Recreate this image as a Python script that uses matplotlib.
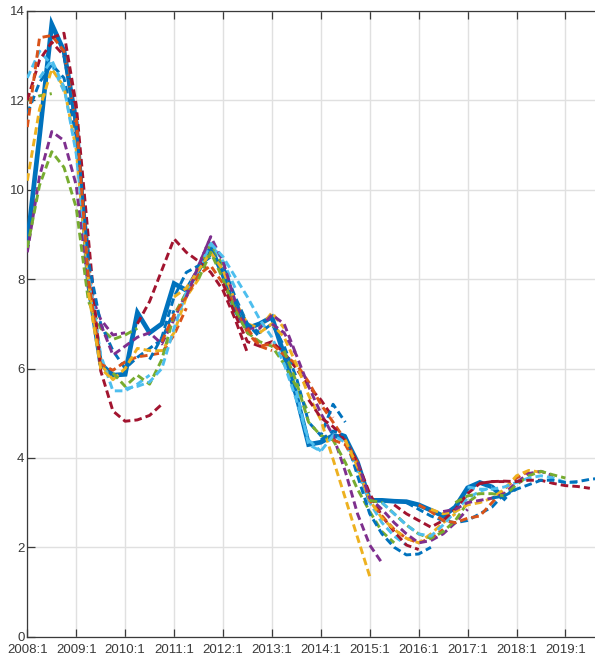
import matplotlib
matplotlib.use("Agg")
import matplotlib.pyplot as plt
from matplotlib import font_manager

# ---------------- data ----------------
# quarter index 0 = 2008:1
tick_labels = ["2008:1", "2009:1", "2010:1", "2011:1", "2012:1", "2013:1",
               "2014:1", "2015:1", "2016:1", "2017:1", "2018:1", "2019:1"]
y_ticks = [0, 2, 4, 6, 8, 10, 12, 14]

actual = [8.8, 11.2, 13.7, 13.1, 11.5, 7.9, 6.1, 5.85, 5.87, 7.25,
          6.8, 7.0, 7.9, 7.75, 8.2, 8.7, 8.1, 7.3, 6.9, 7.0,
          7.15, 6.3, 5.4, 4.3, 4.35, 4.5, 4.45, 3.9, 3.05, 3.05,
          3.03, 3.02, 2.95, 2.83, 2.7, 2.9, 3.33, 3.45, 3.35, 3.1]

# each vintage: 10-quarter window starting at its id (clipped at 2008:1)
v_m7 = [12.0, 12.1, 12.15]
v_m6 = [12.5, 13.1, 12.8, 12.2]
v_m5 = [12.0, 12.9, 13.3, 13.0, 11.7]
v_m4 = [11.7, 12.4, 12.8, 12.5, 11.2, 8.6]
v_m3 = [11.4, 13.4, 13.45, 13.1, 11.4, 8.4, 6.2]
v_m2 = [10.2, 11.8, 12.7, 12.3, 10.9, 7.9, 6.1, 5.75]
v_m1 = [8.6, 10.3, 11.3, 11.1, 10.1, 7.8, 7.1, 6.75, 6.8]
v_00 = [8.7, 10.1, 10.85, 10.5, 9.6, 7.5, 6.9, 6.65, 6.75, 6.9]
v_01 = [12.5, 12.9, 12.3, 10.8, 8.2, 6.3, 5.5, 5.5, 5.65, 5.85]
v_02 = [13.4, 13.5, 11.9, 8.9, 5.95, 5.05, 4.82, 4.85, 4.95, 5.2]
v_03 = [13.0, 11.4, 8.4, 7.0, 6.4, 6.0, 6.25, 6.45, 6.65, 7.3]
v_04 = [11.6, 8.0, 6.1, 5.96, 6.15, 6.26, 6.3, 6.35, 6.75, 7.35]
v_05 = [7.7, 6.0, 5.75, 6.0, 6.45, 6.4, 6.4, 6.8, 7.6, 8.0]
v_06 = [7.0, 6.3, 6.5, 6.7, 6.8, 6.55, 7.1, 7.7, 8.3, 8.95]
v_07 = [5.9, 5.6, 5.85, 5.65, 6.2, 7.2, 7.7, 8.2, 8.8, 8.3]
v_08 = [5.55, 5.6, 5.7, 6.0, 6.9, 7.7, 8.2, 8.8, 8.4, 7.8]
v_09 = [7.0, 7.5, 8.2, 8.9, 8.6, 8.4, 8.15, 7.75, 7.1, 6.35]
v_10 = [6.2, 6.7, 7.6, 8.15, 8.3, 8.5, 8.3, 7.6, 7.0, 6.7]
v_11 = [6.6, 7.2, 7.6, 8.1, 8.3, 7.9, 7.4, 6.8, 6.5, 6.4]
v_12 = [7.6, 7.8, 8.2, 8.6, 8.2, 7.5, 7.0, 6.9, 7.25, 6.9]
v_13 = [7.6, 8.3, 8.95, 8.4, 7.5, 6.9, 6.9, 7.2, 7.0, 6.3]
v_14 = [8.0, 8.6, 8.0, 7.3, 6.8, 6.6, 6.5, 6.1, 5.6, 5.0]
v_15 = [8.8, 8.5, 8.05, 7.6, 7.1, 6.7, 6.1, 5.3, 4.4, 4.15]
v_16 = [7.9, 7.2, 6.6, 6.5, 6.6, 6.35, 6.0, 5.6, 5.3, 4.9]
v_17 = [7.5, 7.0, 6.8, 7.0, 6.5, 5.8, 4.8, 4.5, 5.2, 4.8]
v_18 = [6.9, 6.5, 6.55, 6.3, 6.1, 5.7, 5.2, 4.8, 4.4, 3.9]
v_19 = [6.8, 7.0, 6.7, 6.1, 5.4, 4.85, 3.97, 3.1, 2.22, 1.35]
v_20 = [7.0, 6.8, 6.3, 5.6, 5.0, 4.5, 3.7, 2.75, 2.05, 1.65]
v_21 = [6.4, 5.7, 4.8, 4.5, 4.4, 3.9, 3.3, 2.8, 2.35, 2.1]
v_22 = [5.5, 4.3, 4.15, 4.5, 4.35, 3.7, 3.0, 2.55, 2.25, 2.05]
v_23 = [5.3, 4.9, 4.7, 4.4, 3.9, 3.2, 2.7, 2.35, 2.05, 1.95]
v_24 = [4.4, 4.6, 4.5, 3.6, 2.75, 2.3, 2.0, 1.83, 1.85, 2.0]
v_25 = [4.4, 4.3, 3.8, 3.05, 2.7, 2.4, 2.2, 2.1, 2.2, 2.4]
v_26 = [4.4, 3.8, 3.05, 2.65, 2.4, 2.2, 2.1, 2.3, 2.55, 2.75]
v_27 = [3.9, 3.1, 2.85, 2.55, 2.3, 2.1, 2.15, 2.3, 2.55, 2.85]
v_28 = [3.05, 3.0, 2.75, 2.5, 2.3, 2.2, 2.35, 2.6, 3.0, 3.2]
v_29 = [3.0, 2.75, 2.5, 2.3, 2.25, 2.5, 2.8, 3.1, 3.25, 3.35]
v_30 = [2.95, 2.75, 2.6, 2.45, 2.6, 2.85, 3.2, 3.43, 3.47, 3.47]
v_31 = [3.0, 2.85, 2.7, 2.6, 2.55, 2.6, 2.75, 2.9, 3.2, 3.3]
v_32 = [2.95, 2.8, 2.6, 2.55, 2.65, 2.7, 3.0, 3.3, 3.55, 3.7]
v_33 = [2.85, 2.75, 2.8, 2.95, 3.0, 3.1, 3.3, 3.6, 3.72, 3.68]
v_34 = [2.8, 2.85, 3.0, 3.05, 3.1, 3.2, 3.45, 3.65, 3.7, 3.6]
v_35 = [3.0, 3.15, 3.2, 3.2, 3.15, 3.4, 3.6, 3.7, 3.62, 3.55]
v_36 = [3.35, 3.3, 3.3, 3.35, 3.45, 3.55, 3.6, 3.55, 3.45, 3.45]
v_37 = [3.43, 3.47, 3.48, 3.47, 3.5, 3.5, 3.43, 3.38, 3.36, 3.32]
v_38 = [3.1, 3.15, 3.3, 3.4, 3.5, 3.5, 3.45, 3.47, 3.52, 3.55]

vintage_ids = list(range(-7, 39))
vintages = [v_m7, v_m6, v_m5, v_m4, v_m3, v_m2, v_m1, v_00, v_01, v_02,
            v_03, v_04, v_05, v_06, v_07, v_08, v_09, v_10, v_11, v_12,
            v_13, v_14, v_15, v_16, v_17, v_18, v_19, v_20, v_21, v_22,
            v_23, v_24, v_25, v_26, v_27, v_28, v_29, v_30, v_31, v_32,
            v_33, v_34, v_35, v_36, v_37, v_38]

# MATLAB default colour order
colors = ["#0072BD", "#D95319", "#EDB120", "#7E2F8E",
          "#77AC30", "#4DBEEE", "#A2142F"]

# ---------------- font ----------------
names = {f.name for f in font_manager.fontManager.ttflist}
fam = "Liberation Sans Narrow" if "Liberation Sans Narrow" in names else "Liberation Sans"
plt.rcParams["font.family"] = [fam, "DejaVu Sans"]

# ---------------- figure ----------------
W, H = 595, 666
fig = plt.figure(figsize=(W / 100, H / 100), dpi=100)
px_left, px_bottom, px_top = 27.3, 636.7, 10.9
px_per_q = 12.23
n_q = 48
ax = fig.add_axes([px_left / W, (H - px_bottom) / H,
                   n_q * px_per_q / W, (px_bottom - px_top) / H])

ax.plot(range(len(actual)), actual, color="#0072BD", lw=3.4,
        solid_joinstyle="miter", zorder=3)

for vid, vals in zip(vintage_ids, vintages):
    start = max(vid, 0)
    xs = list(range(start, start + len(vals)))
    ax.plot(xs, vals, color=colors[(vid + 4) % 7], lw=2.1,
            dashes=(2.6, 1.4), zorder=4)

ax.set_xlim(0, n_q)
ax.set_ylim(0, 14)
ax.set_xticks(range(0, 4 * len(tick_labels), 4))
ax.set_xticklabels(tick_labels)
ax.set_yticks(y_ticks)
ax.set_yticklabels([str(v) for v in y_ticks])

ax.grid(True, color="#e0e0e0", lw=1.0, zorder=0)
ax.set_axisbelow(True)
ax.tick_params(direction="in", length=5.5, width=0.9, colors="#3a3a3a",
               labelsize=9.5, top=True, right=True)
ax.tick_params(axis="x", pad=5)
ax.tick_params(axis="y", pad=2)
for s in ax.spines.values():
    s.set_color("#3a3a3a")
    s.set_linewidth(0.9)

fig.savefig("out.png", dpi=100)
